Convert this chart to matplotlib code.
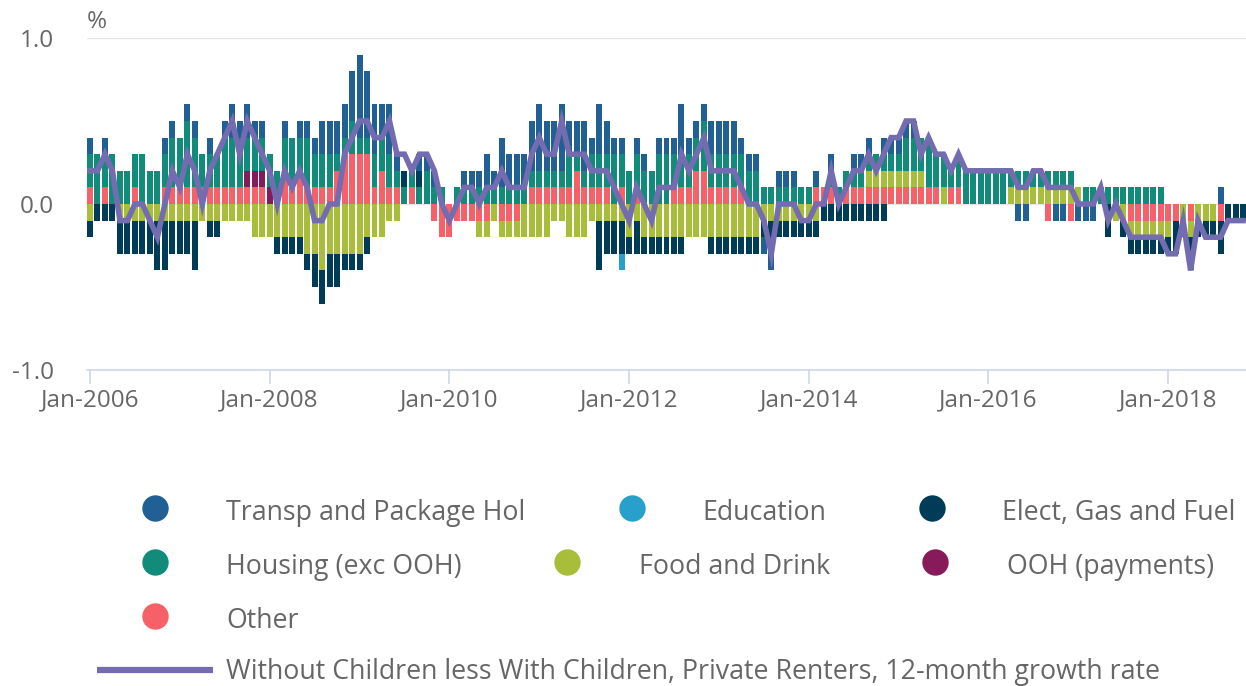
import numpy as np
import matplotlib
matplotlib.use("Agg")
import matplotlib.pyplot as plt

plt.rcParams['font.family'] = ['Open Sans', 'DejaVu Sans']

# monthly contributions, Jan-2006 .. Nov-2018 (percentage points)
other = [
    .1, 0, .1, 0, 0, 0, .1, 0, 0, 0, .1, .1,
    .1, .1, .1, .1, .1, .1, .1, .1, .1, .1, .1, .1,
    0, 0, .2, .1, .2, .1, .1, .1, .1, .2, .3, .3,
    .3, .3, .1, .2, .1, .1, 0, .1, 0, 0, -.1, -.2,
    -.2, -.1, -.1, -.1, -.1, -.1, 0, -.1, -.1, -.1, 0, .1,
    .1, .1, .1, .1, .1, .2, .1, .1, .1, .1, 0, .1,
    0, .1, 0, 0, 0, 0, .1, .1, .1, .2, .2, .1,
    .1, .1, .1, .1, 0, 0, 0, 0, 0, 0, 0, 0,
    0, .1, .1, .1, 0, .1, .1, .1, .1, .1, .1, .1,
    .1, .1, .1, .1, .1, .1, 0, .1, .1, 0, 0, 0,
    0, 0, 0, 0, 0, 0, 0, 0, -.1, 0, 0, -.1,
    0, 0, 0, 0, 0, 0, 0, -.1, -.1, -.1, -.1, -.1,
    -.1, -.1, 0, -.1, 0, 0, 0, -.1, 0, 0, 0,
]
ooh = [0] * 155
for m in (21, 22, 23, 24):
    ooh[m] = .1
food = [
    -.1, 0, 0, 0, -.1, -.1, -.1, -.1, -.1, -.1, -.1, -.1,
    -.1, -.1, -.1, -.1, -.1, -.1, -.1, -.1, -.1, -.1, -.2, -.2,
    -.2, -.2, -.2, -.2, -.2, -.3, -.3, -.4, -.3, -.3, -.3, -.3,
    -.3, -.2, -.2, -.2, -.1, -.1, 0, 0, 0, 0, 0, 0,
    0, 0, 0, 0, -.1, -.1, -.1, -.1, -.1, -.1, -.2, -.2,
    -.2, -.2, -.1, -.1, -.2, -.2, -.2, -.1, -.1, -.1, -.1, -.1,
    -.2, -.1, -.2, -.2, -.2, -.2, -.2, -.2, -.2, -.2, -.2, -.2,
    -.2, -.2, -.2, -.2, -.2, -.2, -.1, -.1, -.1, -.1, -.1, -.1,
    -.1, -.1, 0, 0, 0, 0, 0, 0, .1, .1, .1, .1,
    .1, .1, .1, .1, 0, 0, .1, 0, 0, 0, 0, 0,
    0, 0, 0, .1, .1, .1, .1, .1, .1, .1, .1, .1,
    .1, 0, 0, 0, 0, -.1, -.1, -.1, -.1, -.1, -.1, -.1,
    -.1, 0, -.1, -.1, -.1, -.1, -.1, 0, 0, 0, 0,
]
housing = [
    .2, .3, .2, .3, .2, .2, .2, .3, .2, .2, .2, .3,
    .3, .4, .3, .2, .2, .2, .3, .3, .3, .2, .2, .2,
    .2, .2, .2, .3, .2, .3, .2, .2, .2, .1, .1, .2,
    .1, .1, .2, .2, .2, .1, .1, .1, .1, .2, .1, .1,
    0, .1, .1, .1, .1, .1, .1, .1, .1, .1, .1, .1,
    .1, .1, .1, .1, .2, .1, .1, .2, .2, .2, .3, .2,
    .2, .2, .2, .2, .3, .3, .2, .2, .2, .2, .3, .2,
    .2, .2, .2, .2, .2, .2, .1, .1, .1, .1, .1, .1,
    .1, 0, 0, .1, .1, .1, .1, .1, .1, .1, .1, .1,
    .1, .2, .2, .2, .3, .2, .2, .1, .2, .2, .2, .2,
    .2, .2, .2, .1, .1, .1, .1, .1, .1, .1, .1, .1,
    0, .1, .1, .1, .1, .1, .1, .1, .1, .1, .1, .1,
    0, 0, 0, 0, 0, 0, 0, 0, 0, 0, 0,
]
elect = [
    -.1, -.1, -.1, -.1, -.2, -.2, -.2, -.2, -.2, -.3, -.3, -.2,
    -.2, -.2, -.3, 0, -.1, -.1, 0, 0, 0, 0, 0, 0,
    0, -.1, -.1, -.1, -.1, -.1, -.2, -.2, -.2, -.2, -.1, -.1,
    -.1, -.1, 0, 0, 0, 0, .1, 0, .1, 0, 0, 0,
    0, 0, 0, 0, 0, 0, 0, 0, 0, 0, 0, 0,
    0, 0, 0, 0, 0, 0, 0, 0, -.3, -.2, -.2, -.2,
    -.1, -.2, -.1, -.1, -.1, -.1, -.1, -.1, 0, 0, 0, -.1,
    -.1, -.1, -.1, -.1, -.1, -.1, -.1, -.1, -.1, -.1, -.1, -.1,
    -.1, -.1, -.1, -.1, -.1, -.1, -.1, -.1, -.1, -.1, -.1, 0,
    0, 0, 0, 0, 0, 0, 0, 0, 0, 0, 0, 0,
    0, 0, 0, 0, 0, 0, 0, 0, 0, 0, 0, 0,
    0, 0, 0, 0, -.2, 0, -.1, -.1, -.1, -.1, -.1, -.1,
    -.1, -.2, -.1, -.1, -.1, -.1, -.1, -.2, -.1, -.1, -.1,
]
education = [0] * 155
education[71] = -.1
transp = [
    .1, 0, .1, 0, 0, 0, 0, 0, 0, 0, .1, .1,
    0, .1, .1, 0, .1, 0, .1, .2, .1, .2, .1, .1,
    0, 0, .1, 0, .1, .1, .1, .2, .2, .2, .2, .3,
    .5, .4, .3, .2, .3, .1, 0, 0, .1, .1, .1, 0,
    0, 0, .1, .1, .1, .2, .1, .3, .2, .2, .2, .3,
    .4, .3, .3, .4, .2, .2, .3, .1, .3, .2, .1, .1,
    0, .1, .1, 0, .1, .1, .1, .3, .1, .1, .1, .2,
    .2, .2, .2, .1, .1, .1, -.1, -.2, .1, .1, .1, 0,
    0, .1, 0, .1, 0, 0, .1, .1, .1, 0, .1, .1,
    .1, .1, .1, 0, 0, 0, 0, 0, 0, 0, 0, 0,
    0, 0, 0, 0, -.1, -.1, 0, 0, 0, -.1, -.1, 0,
    -.1, -.1, -.1, 0, 0, 0, 0, 0, 0, 0, 0, 0,
    0, 0, 0, -.1, 0, 0, 0, .1, 0, 0, 0,
]
growth = [
    .2, .2, .3, .2, -.1, -.1, 0, 0, -.1, -.2, 0, .2,
    .1, .3, .2, 0, .2, .3, .4, .5, .3, .5, .4, .3,
    .2, 0, .2, .1, .2, .1, -.1, -.1, 0, 0, .3, .4,
    .5, .5, .4, .4, .5, .3, .3, .2, .3, .3, .2, 0,
    -.1, 0, .1, .1, 0, .1, .1, .2, .1, .1, .1, .3,
    .4, .3, .3, .5, .3, .3, .3, .2, .2, .2, .1, 0,
    -.1, .1, 0, -.1, .1, .1, .1, .3, .2, .3, .4, .2,
    .2, .2, .2, .1, 0, 0, -.1, -.3, 0, 0, 0, -.1,
    -.1, 0, 0, .2, 0, .1, .2, .2, .3, .2, .3, .4,
    .4, .5, .5, .3, .4, .3, .3, .2, .3, .2, .2, .2,
    .2, .2, .2, .2, .1, .1, .2, .2, .1, .1, .1, .1,
    0, 0, 0, .1, -.1, 0, -.1, -.2, -.2, -.2, -.2, -.2,
    -.3, -.3, -.1, -.4, -.1, -.2, -.2, -.2, -.1, -.1, -.1,
]

tick_months = [0, 24, 48, 72, 96, 120, 144]
tick_labels = ["Jan-2006", "Jan-2008", "Jan-2010", "Jan-2012",
               "Jan-2014", "Jan-2016", "Jan-2018"]

series = [
    ("Other", other, "#f66068"),
    ("OOH (payments)", ooh, "#871a5b"),
    ("Food and Drink", food, "#a8bd3a"),
    ("Housing (exc OOH)", housing, "#118c7b"),
    ("Elect, Gas and Fuel", elect, "#003c57"),
    ("Education", education, "#27a0cc"),
    ("Transp and Package Hol", transp, "#206095"),
]
line_color = "#746cb1"
text_color = "#666666"
tick_fs = 17.5
legend_fs = 19.3

fig = plt.figure(figsize=(12.46, 6.86), dpi=100)
ax = fig.add_axes([87 / 1246, 1 - 370 / 686, 1159 / 1246, 332 / 686])

x = np.arange(len(growth))
pos_base = np.zeros(len(x))
neg_base = np.zeros(len(x))
for name, vals, col in series:
    v = np.array(vals, dtype=float)
    p = np.where(v > 0, v, 0)
    n = np.where(v < 0, v, 0)
    ax.bar(x, p, 0.8, bottom=pos_base, color=col, linewidth=0, zorder=2)
    ax.bar(x, n, 0.8, bottom=neg_base, color=col, linewidth=0, zorder=2)
    pos_base += p
    neg_base += n

ax.plot(x, growth, color=line_color, linewidth=4, zorder=4,
        solid_joinstyle='miter')

ax.set_xlim(-0.4, 154.4)
ax.set_ylim(-1, 1)
for yv in (0, 1):
    ax.axhline(yv, color="#e6e6e6", linewidth=1, zorder=1)
for s in ("top", "right", "left"):
    ax.spines[s].set_visible(False)
ax.spines["bottom"].set_color("#ccd6eb")
ax.spines["bottom"].set_linewidth(1.2)

ax.set_yticks([-1, 0, 1])
ax.set_yticklabels(["-1.0", "0.0", "1.0"])
ax.tick_params(axis="y", length=0, pad=24, labelsize=tick_fs, labelcolor=text_color)
ax.set_xticks(tick_months)
ax.set_xticklabels(tick_labels)
ax.tick_params(axis="x", length=10, width=1.2, color="#ccd6eb", pad=3,
               labelsize=tick_fs, labelcolor=text_color)

fig.text(87 / 1246, 1 - 22 / 686, "%", fontsize=tick_fs, color=text_color,
         va="center", ha="left")

# legend, drawn in pixel coordinates
lg = fig.add_axes([0, 0, 1, 1], zorder=-1)
lg.set_xlim(0, 1246)
lg.set_ylim(686, 0)
lg.axis("off")
legend_items = [
    ("Transp and Package Hol", "#206095", 155, 226, 510),
    ("Education", "#27a0cc", 632, 702, 510),
    ("Elect, Gas and Fuel", "#003c57", 932, 1002, 510),
    ("Housing (exc OOH)", "#118c7b", 155, 226, 564),
    ("Food and Drink", "#a8bd3a", 567, 639, 564),
    ("OOH (payments)", "#871a5b", 935, 1007, 564),
    ("Other", "#f66068", 155, 226, 618),
]
for label, col, mx, tx, yy in legend_items:
    lg.plot([mx], [yy - 2], marker="o", markersize=19, color=col,
            markeredgewidth=0, linestyle="none")
    lg.text(tx, yy + 3, label, fontsize=legend_fs, color=text_color,
            va="center", ha="left")
lg.plot([97, 213], [670, 670], color=line_color, linewidth=4.5,
        solid_capstyle="butt")
lg.text(226, 672, "Without Children less With Children, Private Renters, 12-month growth rate",
        fontsize=legend_fs, color=text_color, va="center", ha="left")

fig.savefig("out.png", dpi=100)
